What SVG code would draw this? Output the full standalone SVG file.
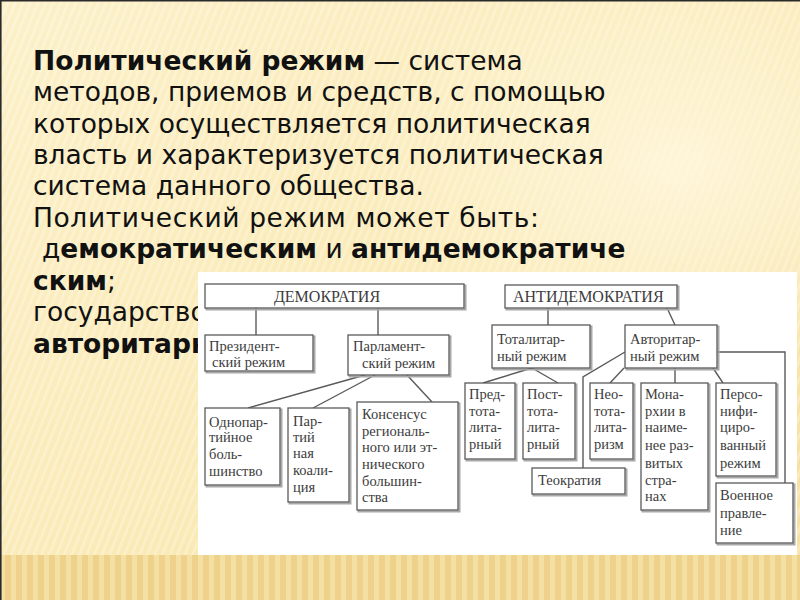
<svg xmlns="http://www.w3.org/2000/svg" width="800" height="600" viewBox="0 0 800 600">
<defs>
  <linearGradient id="bg" x1="0" y1="0" x2="1" y2="1">
    <stop offset="0" stop-color="#fcf0c8"/>
    <stop offset="0.55" stop-color="#faeab6"/>
    <stop offset="1" stop-color="#f6df9f"/>
  </linearGradient>
  <radialGradient id="glow" cx="0.85" cy="0.3" r="0.4">
    <stop offset="0" stop-color="#fff8e0" stop-opacity="0.8"/>
    <stop offset="1" stop-color="#fff8e0" stop-opacity="0"/>
  </radialGradient>
  <pattern id="diag" width="7" height="7" patternUnits="userSpaceOnUse" patternTransform="rotate(22)">
    <rect width="2.5" height="7" fill="#ffffff" opacity="0.3"/>
  </pattern>
  <pattern id="vert" width="11" height="45" patternUnits="userSpaceOnUse">
    <rect width="5" height="45" fill="#f5e0a4"/>
  </pattern>
  <clipPath id="leftcol">
    <rect x="0" y="290" width="198" height="80"/>
  </clipPath>
  <style>
    .t{font-family:"DejaVu Sans","Noto Sans",sans-serif;font-size:26.5px;fill:#111}
    .b{font-weight:bold}
    .sh{fill:none;stroke:#a8a8a8;stroke-width:2}
    .bx{fill:#fff;stroke:#5a5a5a;stroke-width:1.3}
    .lbl{font-family:"Liberation Serif","Times New Roman",serif;font-size:14.5px;fill:#3c3c3c}
    .cap{font-family:"Liberation Serif","Times New Roman",serif;font-size:16px;fill:#3c3c3c}
    #connectors line,#connectors polyline{stroke:#5a5a5a;stroke-width:1.4;fill:none}
  </style>
</defs>

<!-- background -->
<rect x="0" y="0" width="800" height="600" fill="url(#bg)"/>
<rect x="0" y="0" width="800" height="555" fill="url(#diag)"/>
<rect x="0" y="0" width="800" height="555" fill="url(#glow)"/>
<rect x="0" y="555" width="800" height="45" fill="#eed28c"/>
<rect x="0" y="555" width="800" height="45" fill="url(#vert)"/>
<line x1="0" y1="0.8" x2="800" y2="0.8" stroke="#2a2a2a" stroke-width="1.6"/>
<line x1="0.8" y1="0" x2="0.8" y2="600" stroke="#2a2a2a" stroke-width="1.6"/>

<!-- slide text -->
<g id="slide-text">
  <text class="t" x="33" y="70"><tspan class="b">Политический режим</tspan> — система</text>
  <text class="t" x="33" y="101">методов, приемов и средств, с помощью</text>
  <text class="t" x="33" y="133">которых осуществляется политическая</text>
  <text class="t" x="33" y="164">власть и характеризуется политическая</text>
  <text class="t" x="33" y="195">система данного общества.</text>
  <text class="t" x="33" y="227" letter-spacing="0.6">Политический режим может быть:</text>
  <text class="t" x="42" y="258">д<tspan class="b">емократическим</tspan> и <tspan class="b">антидемократиче</tspan></text>
  <text class="t" x="33" y="290"><tspan class="b">ским</tspan>;</text>
  <g clip-path="url(#leftcol)">
    <text class="t" x="33" y="321">государство</text>
    <text class="t b" x="33" y="353">авторитарн</text>
  </g>
</g>

<!-- diagram picture -->
<rect x="198" y="272" width="599" height="283" fill="#ffffff"/>

<g id="connectors">
  <line x1="256" y1="308" x2="256" y2="335"/>
  <line x1="378" y1="308" x2="378" y2="335"/>
  <line x1="365" y1="375" x2="248" y2="408"/>
  <line x1="375" y1="375" x2="313" y2="408"/>
  <line x1="407" y1="375" x2="432" y2="402"/>
  <line x1="548" y1="308" x2="548" y2="325"/>
  <line x1="667" y1="308" x2="675" y2="325"/>
  <line x1="532" y1="368" x2="483" y2="383"/>
  <line x1="532" y1="368" x2="558" y2="383"/>
  <line x1="624" y1="368" x2="610" y2="383"/>
  <polyline points="625,352 583,377 583,468"/>
  <line x1="675" y1="368" x2="675" y2="383"/>
  <line x1="713" y1="368" x2="723" y2="383"/>
  <polyline points="717,352 785,352 785,483"/>
</g>

<g id="demokratiya">
  <rect class="sh" x="206.5" y="285.5" width="259" height="24"/>
  <rect class="bx" x="205" y="284" width="259" height="24"/>
  <text class="cap" x="327" y="301.5" text-anchor="middle">ДЕМОКРАТИЯ</text>
</g>
<g id="prezident">
  <rect class="sh" x="206.5" y="336.5" width="108" height="36"/>
  <rect class="bx" x="205" y="335" width="108" height="36"/>
  <text class="lbl" x="209" y="351">Президент-</text>
  <text class="lbl" x="212" y="367">ский режим</text>
</g>
<g id="parlament">
  <rect class="sh" x="349.5" y="336.5" width="101" height="40"/>
  <rect class="bx" x="348" y="335" width="101" height="40"/>
  <text class="lbl" x="353" y="351">Парламент-</text>
  <text class="lbl" x="362" y="368">ский режим</text>
</g>
<g id="odnopartiynoe">
  <rect class="sh" x="206.5" y="409.5" width="75" height="77"/>
  <rect class="bx" x="205" y="408" width="75" height="77"/>
  <text class="lbl" x="209" y="427">Однопар-</text>
  <text class="lbl" x="209" y="442">тийное</text>
  <text class="lbl" x="209" y="459">боль-</text>
  <text class="lbl" x="209" y="476">шинство</text>
</g>
<g id="partiynaya">
  <rect class="sh" x="289.5" y="409.5" width="61" height="94"/>
  <rect class="bx" x="288" y="408" width="61" height="94"/>
  <text class="lbl" x="293" y="426">Пар-</text>
  <text class="lbl" x="293" y="442">тий</text>
  <text class="lbl" x="293" y="458">ная</text>
  <text class="lbl" x="293" y="475">коали-</text>
  <text class="lbl" x="293" y="492">ция</text>
</g>
<g id="konsensus">
  <rect class="sh" x="358.5" y="403.5" width="101" height="108"/>
  <rect class="bx" x="357" y="402" width="101" height="108"/>
  <text class="lbl" x="362" y="419">Консенсус</text>
  <text class="lbl" x="362" y="436">региональ-</text>
  <text class="lbl" x="362" y="452">ного или эт-</text>
  <text class="lbl" x="362" y="469">нического</text>
  <text class="lbl" x="362" y="486">большин-</text>
  <text class="lbl" x="362" y="502">ства</text>
</g>

<g id="antidemokratiya">
  <rect class="sh" x="506.5" y="286.5" width="172" height="23"/>
  <rect class="bx" x="505" y="285" width="172" height="23"/>
  <text class="cap" x="513" y="302">АНТИДЕМОКРАТИЯ</text>
</g>
<g id="totalitarny">
  <rect class="sh" x="493.5" y="326.5" width="98" height="43"/>
  <rect class="bx" x="492" y="325" width="98" height="43"/>
  <text class="lbl" x="497" y="344">Тоталитар-</text>
  <text class="lbl" x="497" y="361">ный режим</text>
</g>
<g id="avtoritarny">
  <rect class="sh" x="626.5" y="326.5" width="92" height="43"/>
  <rect class="bx" x="625" y="325" width="92" height="43"/>
  <text class="lbl" x="630" y="344">Авторитар-</text>
  <text class="lbl" x="630" y="361">ный режим</text>
</g>
<g id="predtotalitarny">
  <rect class="sh" x="466.5" y="384.5" width="50" height="76"/>
  <rect class="bx" x="465" y="383" width="50" height="76"/>
  <text class="lbl" x="469" y="399">Пред-</text>
  <text class="lbl" x="469" y="416">тота-</text>
  <text class="lbl" x="469" y="432">лита-</text>
  <text class="lbl" x="469" y="449">рный</text>
</g>
<g id="posttotalitarny">
  <rect class="sh" x="524.5" y="384.5" width="52" height="76"/>
  <rect class="bx" x="523" y="383" width="52" height="76"/>
  <text class="lbl" x="527" y="399">Пост-</text>
  <text class="lbl" x="527" y="416">тота-</text>
  <text class="lbl" x="527" y="432">лита-</text>
  <text class="lbl" x="527" y="449">рный</text>
</g>
<g id="neototalitarizm">
  <rect class="sh" x="591.5" y="384.5" width="43" height="76"/>
  <rect class="bx" x="590" y="383" width="43" height="76"/>
  <text class="lbl" x="594" y="399">Нео-</text>
  <text class="lbl" x="594" y="416">тота-</text>
  <text class="lbl" x="594" y="432">лита-</text>
  <text class="lbl" x="594" y="449">ризм</text>
</g>
<g id="monarkhii">
  <rect class="sh" x="642.5" y="384.5" width="67" height="127"/>
  <rect class="bx" x="641" y="383" width="67" height="127"/>
  <text class="lbl" x="645" y="399">Мона-</text>
  <text class="lbl" x="645" y="416">рхии в</text>
  <text class="lbl" x="645" y="432">наиме-</text>
  <text class="lbl" x="645" y="450">нее раз-</text>
  <text class="lbl" x="645" y="468">витых</text>
  <text class="lbl" x="645" y="485">стра-</text>
  <text class="lbl" x="645" y="501">нах</text>
</g>
<g id="personifitsirovanny">
  <rect class="sh" x="717.5" y="384.5" width="60" height="93"/>
  <rect class="bx" x="716" y="383" width="60" height="93"/>
  <text class="lbl" x="720" y="399">Персо-</text>
  <text class="lbl" x="720" y="416">нифи-</text>
  <text class="lbl" x="720" y="432">циро-</text>
  <text class="lbl" x="720" y="450">ванный</text>
  <text class="lbl" x="720" y="468">режим</text>
</g>
<g id="teokratiya">
  <rect class="sh" x="533.5" y="469.5" width="93" height="26"/>
  <rect class="bx" x="532" y="468" width="93" height="26"/>
  <text class="lbl" x="538" y="485">Теократия</text>
</g>
<g id="voennoe">
  <rect class="sh" x="717.5" y="484.5" width="77" height="60"/>
  <rect class="bx" x="716" y="483" width="77" height="60"/>
  <text class="lbl" x="720" y="500">Военное</text>
  <text class="lbl" x="720" y="518">правле-</text>
  <text class="lbl" x="720" y="535">ние</text>
</g>
</svg>
